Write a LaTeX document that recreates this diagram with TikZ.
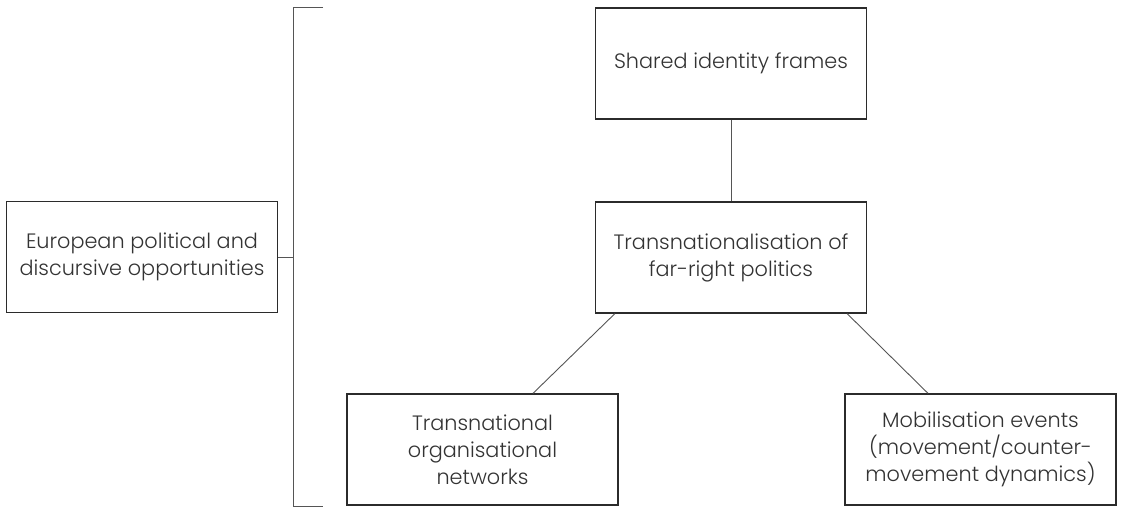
\documentclass[tikz,border=0pt]{standalone}
\usepackage{fontspec}
\setmainfont{Poppins}[UprightFont=* Light]
\usetikzlibrary{calc}
\definecolor{txt}{HTML}{333333}
\definecolor{edge}{HTML}{2B2B2B}
\definecolor{conn}{HTML}{555555}
\begin{document}
\begin{tikzpicture}[x=1pt,y=-1pt,
  box/.style={draw=edge,line width=1.3pt,rectangle,minimum width=271pt,minimum height=111pt,
    align=center,text=txt,font=\fontsize{20.8}{27}\selectfont,inner sep=0pt},
  link/.style={draw=conn,line width=0.9pt}]
\useasboundingbox (0,0) rectangle (1121,507);
\node[box] (left) at (142,257) {European political and\\discursive opportunities};
\node[box] (top) at (731,63.5) {Shared identity frames};
\node[box] (mid) at (731,257.5) {Transnationalisation of\\far-right politics};
\node[box] (bl) at (482.5,449.5) {Transnational\\organisational\\networks};
\node[box] (br) at (980.5,449.5) {Mobilisation events\\(movement/counter-\\movement dynamics)};
\coordinate (brtop) at (323,7.5);
\coordinate (brtopc) at (293,7.5);
\coordinate (brbotc) at (293,506);
\coordinate (brbot) at (323,506);
\coordinate (brmid) at (293,257);
\draw[link] (brtop) -- (brtopc) -- (brbotc) -- (brbot);
\draw[link] (left.east) -- (brmid);
\draw[link] (top.south) -- (mid.north);
\draw[link] ($(mid.south west)+(20,0)$) -- ($(bl.north)+(50.5,0)$);
\draw[link] ($(mid.south east)+(-20,0)$) -- ($(br.north)+(-52.5,0)$);
\end{tikzpicture}
\end{document}
